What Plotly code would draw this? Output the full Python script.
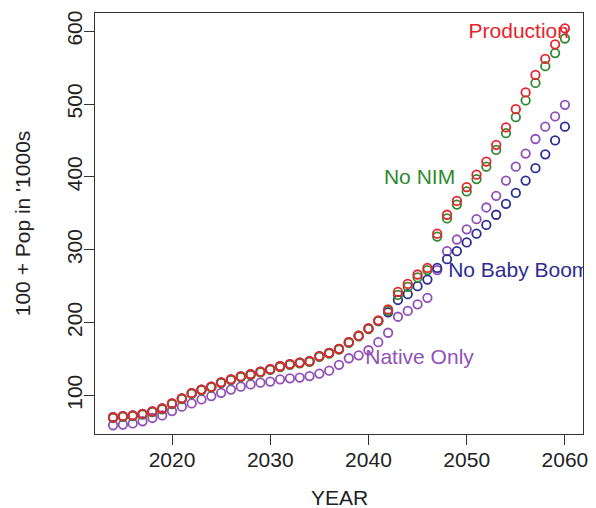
import plotly.graph_objects as go

years = list(range(2014, 2061))

production = [70, 71.5, 72.5, 74.5, 78, 82, 89, 96, 103, 108,
              112, 118, 122, 126, 129, 132.5, 136, 140, 143, 145,
              147, 154, 158.5, 164, 173, 182, 192, 203, 218, 242,
              253, 266, 275, 322, 348, 367, 386, 403, 421, 444,
              468, 493, 516, 540, 562, 582, 604]

no_nim = [69, 70.5, 71.5, 73.5, 77, 81, 88, 95, 102, 107,
          111, 117, 121, 125, 128, 131.5, 135, 139, 142, 144,
          146, 153, 157.5, 163, 172, 181, 191, 202, 216, 238,
          249, 262, 272, 318, 343, 362, 380, 397, 414, 437,
          460, 482, 505, 529, 552, 570, 590]

no_baby_boom = [70, 71.5, 72.5, 74.5, 78, 82, 89, 96, 103, 108,
                112, 118, 122, 126, 129, 132.5, 136, 140, 143, 145,
                147, 154, 158.5, 164, 173, 182, 192, 202, 214, 231,
                239, 250, 259, 275, 287, 298, 310, 322, 334, 348,
                363, 378, 395, 412, 431, 450, 469]

native_only = [59, 60, 61.5, 64.5, 69, 72.5, 78.5, 84.5, 89, 94.5,
               99, 103.5, 108, 112, 115, 117.5, 119, 122, 123.5, 124.5,
               126.5, 130, 134, 142, 151, 155, 162, 173, 186, 208,
               216, 225, 234, 272, 298, 314, 328, 342, 358, 374,
               395, 414, 432, 452, 469, 483, 499]

label_text = ["Production", "No NIM", "No Baby Boom", "Native Only"]
label_x = [2055.3, 2045.2, 2055.3, 2045.2]
label_y = [598, 398, 270, 150]

x_ticks = [2020, 2030, 2040, 2050, 2060]
y_ticks = [100, 200, 300, 400, 500, 600]

RED = "#e8232b"
GREEN = "#2f8a2f"
BLUE = "#2d2d92"
PURPLE = "#9150b8"

FONT = "Liberation Sans, Arial, sans-serif"

fig = go.Figure()

series = [
    ("Native Only", native_only, PURPLE),
    ("No Baby Boom", no_baby_boom, BLUE),
    ("No NIM", no_nim, GREEN),
    ("Production", production, RED),
]
for name, vals, col in series:
    fig.add_trace(go.Scatter(
        x=years, y=vals, mode="markers", name=name,
        marker=dict(symbol="circle-open", size=8.5, color=col,
                    line=dict(width=1.8, color=col)),
        showlegend=False,
    ))

label_colors = [RED, GREEN, BLUE, PURPLE]
for t, lx, ly, c in zip(label_text, label_x, label_y, label_colors):
    fig.add_trace(go.Scatter(
        x=[lx], y=[ly], mode="text", text=[t],
        textposition="middle center",
        textfont=dict(family=FONT, size=21, color=c),
        showlegend=False, hoverinfo="skip", cliponaxis=True,
    ))

fig.update_layout(
    width=596, height=508,
    margin=dict(l=95, r=8, t=13, b=74),
    paper_bgcolor="white", plot_bgcolor="white",
    font=dict(family=FONT, size=21, color="#222222"),
    showlegend=False,
)

fig.update_xaxes(
    range=[2012.16, 2061.84], tickvals=x_ticks,
    ticks="outside", ticklen=10, tickwidth=1, tickcolor="#333333",
    showline=True, linecolor="#333333", linewidth=1.2, mirror=True,
    showgrid=False, zeroline=False,
    tickfont=dict(size=21, family=FONT, color="#222222"),
    ticklabelstandoff=-3,
)
fig.update_yaxes(
    range=[47, 625], tickvals=y_ticks,
    ticks="outside", ticklen=10, tickwidth=1, tickcolor="#333333",
    showline=True, linecolor="#333333", linewidth=1.2, mirror=True,
    showgrid=False, zeroline=False, tickangle=-90,
    tickfont=dict(size=21, family=FONT, color="#222222"),
    ticklabelstandoff=-6,
)

fig.add_annotation(
    text="YEAR", xref="paper", yref="paper",
    x=0.5, y=(508 - 74 - 497) / (508 - 13 - 74),
    showarrow=False, xanchor="center", yanchor="middle",
    font=dict(family=FONT, size=21, color="#222222"),
)
fig.add_annotation(
    text="100 + Pop in '1000s", xref="paper", yref="paper",
    x=(22 - 95) / (596 - 95 - 8), y=0.5, textangle=-90,
    showarrow=False, xanchor="center", yanchor="middle",
    font=dict(family=FONT, size=21, color="#222222"),
)

fig.write_html(
    "out.html",
    config={"displayModeBar": False},
    post_script="document.body.style.margin='0';document.body.style.padding='0';document.body.style.overflow='hidden';",
)
